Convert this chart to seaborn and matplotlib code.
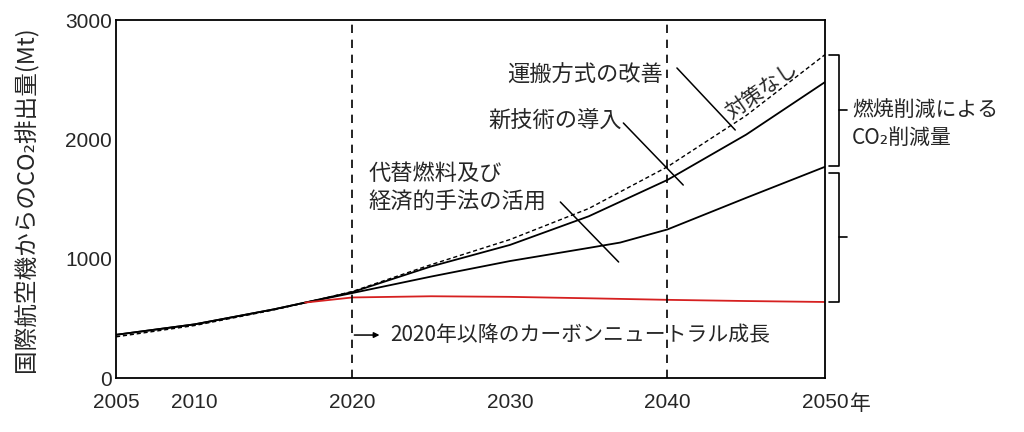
import matplotlib
matplotlib.use("Agg")
import matplotlib.pyplot as plt
import numpy as np
import pandas as pd
import seaborn as sns

# values (Mt CO2)
years = [2005, 2010, 2015, 2017, 2020, 2025, 2030, 2035, 2040, 2045, 2050]
no_measures = [345, 440, 570, 630, 725, 950, 1160, 1420, 1770, 2200, 2710]
new_tech = [362, 450, 575, 632, 720, 935, 1115, 1355, 1660, 2040, 2480]

fuel_years = [2005, 2010, 2015, 2017, 2020, 2025, 2030, 2035, 2037, 2040, 2045, 2050]
alt_fuel = [362, 450, 575, 632, 712, 850, 980, 1090, 1135, 1245, 1510, 1770]

cn_years = [2017, 2020, 2025, 2030, 2035, 2040, 2045, 2050]
carbon_neutral = [632, 675, 685, 680, 668, 655, 645, 637]

x_ticks = [2005, 2010, 2020, 2030, 2040, 2050]
y_major = [0, 1000, 2000, 3000]
y_minor = [500, 1500, 2500]

sns.set_style("white")
plt.rcParams['font.family'] = ['Noto Sans CJK JP', 'DejaVu Sans']

fig = plt.figure(figsize=(10.24, 4.32), dpi=100)
ax = fig.add_axes([0.1133, 0.125, 0.6924, 0.8287])

sns.lineplot(x=years, y=no_measures, ax=ax, color='black', lw=1.0, linestyle=(0, (3, 2)))
sns.lineplot(x=years, y=new_tech, ax=ax, color='black', lw=1.3)
sns.lineplot(x=fuel_years, y=alt_fuel, ax=ax, color='black', lw=1.3)
sns.lineplot(x=cn_years, y=carbon_neutral, ax=ax, color='#d62020', lw=1.3)

ax.axvline(2020, color='black', lw=1.2, linestyle=(0, (5, 4)))
ax.axvline(2040, color='black', lw=1.2, linestyle=(0, (5, 4)))

ax.set_xlim(2005, 2050)
ax.set_ylim(0, 3000)
ax.set_xticks(x_ticks)
ax.set_xticklabels([str(y) for y in x_ticks])
ax.set_yticks(y_major)
ax.set_yticks(y_minor, minor=True)
ax.tick_params(axis='x', direction='in', length=14, width=1.2, pad=11, labelsize=15,
               labelfontfamily='Liberation Sans')
ax.tick_params(axis='y', which='both', direction='in', length=14, width=1.2, pad=3, labelsize=15,
               labelfontfamily='Liberation Sans')
for s in ax.spines.values():
    s.set_color('black')
    s.set_linewidth(1.3)

ax.text(2051.6, -0.073, '年', fontsize=15, va='center', ha='left', clip_on=False,
        transform=ax.get_xaxis_transform())

ax.set_ylabel('国際航空機からのCO₂排出量(Mt)', fontsize=17)
ax.yaxis.set_label_coords(-0.111, 0.5)

# annotations
ax.text(2034.8, 2539, '運搬方式の改善', fontsize=16, ha='center', va='center')
ax.plot([2040.6, 2044.3], [2598, 2078], color='black', lw=1.1)
ax.text(2032.9, 2162, '新技術の導入', fontsize=16, ha='center', va='center')
ax.plot([2037.2, 2041.0], [2137, 1617], color='black', lw=1.1)
ax.text(2021.0, 1596, '代替燃料及び\n経済的手法の活用', fontsize=16, ha='left', va='center',
        linespacing=1.3)
ax.plot([2033.2, 2036.9], [1475, 972], color='black', lw=1.1)
ax.text(2046.0, 2413, '対策なし', fontsize=15, ha='center', va='center', rotation=35)

ax.annotate('', xy=(2021.9, 360), xytext=(2019.95, 360),
            arrowprops=dict(arrowstyle='-|>', color='black', lw=1.1, mutation_scale=8))
ax.text(2022.4, 360, '2020年以降のカーボンニュートラル成長', fontsize=15, ha='left', va='center')

# brackets on the right
def bracket(top, bottom):
    xa, xb, xc = 2050.25, 2050.9, 2051.4
    mid = (top + bottom) / 2
    ax.plot([xa, xb, xb, xa], [top, top, bottom, bottom], color='black', lw=1.2, clip_on=False)
    ax.plot([xb, xc], [mid, mid], color='black', lw=1.2, clip_on=False)

bracket(no_measures[-1], alt_fuel[-1] + 5)
bracket(alt_fuel[-1] - 50, carbon_neutral[-1])

ax.text(2051.7, 2128, '燃焼削減による\nCO₂削減量', fontsize=15, ha='left', va='center',
        linespacing=1.35, clip_on=False)

fig.savefig('out.png', dpi=100)
